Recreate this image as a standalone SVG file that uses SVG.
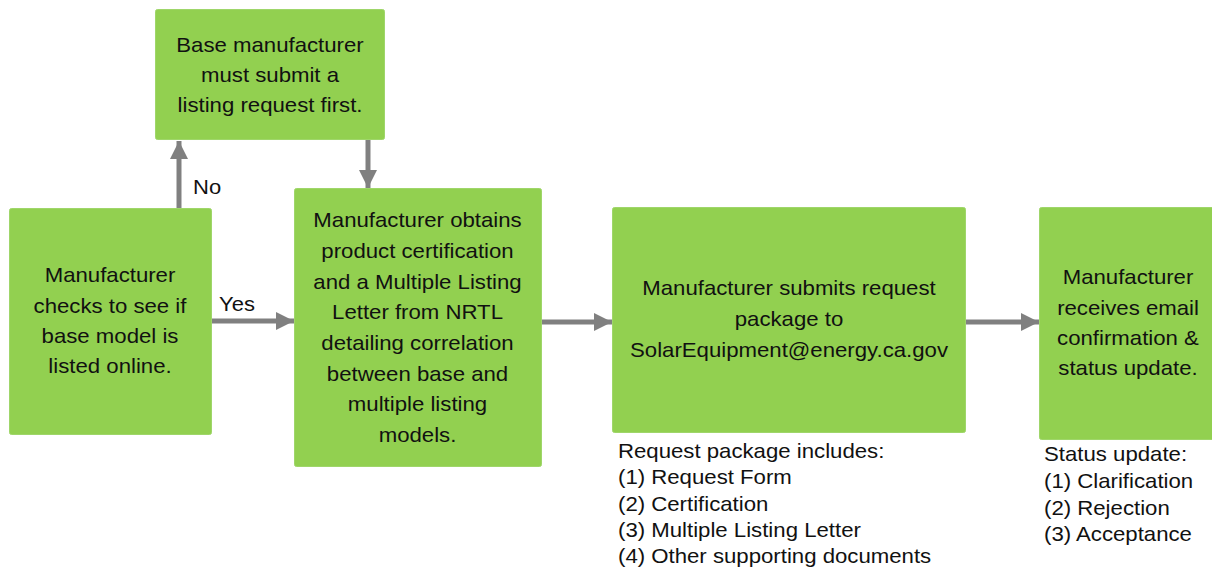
<svg xmlns="http://www.w3.org/2000/svg" width="1212" height="569" viewBox="0 0 1212 569">
<style>
.box{fill:#92D050;stroke:#9FD66A;stroke-width:1}
.t{font-family:"Liberation Sans",Arial,sans-serif;font-size:20px;fill:#111;text-anchor:middle}
.l{font-family:"Liberation Sans",Arial,sans-serif;font-size:20px;fill:#111}
.c{stroke:#808080;stroke-width:5;fill:none}
</style>
<defs>
<marker id="ah" viewBox="0 0 10 10" refX="10" refY="5" markerWidth="4.4" markerHeight="3.6" markerUnits="strokeWidth" orient="auto">
<path d="M0,0 L10,5 L0,10 Z" fill="#808080"/>
</marker>
</defs>
<rect width="1212" height="569" fill="#fff"/>
<g id="connectors">
<line class="c" x1="179" y1="208" x2="179" y2="141" marker-end="url(#ah)"/>
<line class="c" x1="368" y1="140" x2="368" y2="188" marker-end="url(#ah)"/>
<line class="c" x1="211" y1="321" x2="294" y2="321" marker-end="url(#ah)"/>
<line class="c" x1="541" y1="322" x2="612" y2="322" marker-end="url(#ah)"/>
<line class="c" x1="965" y1="322" x2="1039" y2="322" marker-end="url(#ah)"/>
<g transform="translate(193 0) scale(1.1 1)"><text class="l" x="0" y="194">No</text></g>
<g transform="translate(219 0) scale(1.1 1)"><text class="l" x="0" y="311">Yes</text></g>
</g>
<g id="n_base">
<rect class="box" x="155.5" y="9.5" width="229" height="130" rx="2"/>
<g transform="translate(270 0) scale(1.11 1)">
<text class="t" x="0" y="52">Base manufacturer</text>
<text class="t" x="0" y="82">must submit a</text>
<text class="t" x="0" y="112">listing request first.</text>
</g>
</g>
<g id="n_check">
<rect class="box" x="9.5" y="208.5" width="202" height="226" rx="2"/>
<g transform="translate(110 0) scale(1.11 1)">
<text class="t" x="0" y="282">Manufacturer</text>
<text class="t" x="0" y="313">checks to see if</text>
<text class="t" x="0" y="343">base model is</text>
<text class="t" x="0" y="373">listed online.</text>
</g>
</g>
<g id="n_obtain">
<rect class="box" x="294.5" y="188.5" width="247" height="278" rx="2"/>
<g transform="translate(417.5 0) scale(1.11 1)">
<text class="t" x="0" y="227">Manufacturer obtains</text>
<text class="t" x="0" y="258">product certification</text>
<text class="t" x="0" y="289">and a Multiple Listing</text>
<text class="t" x="0" y="319">Letter from NRTL</text>
<text class="t" x="0" y="350">detailing correlation</text>
<text class="t" x="0" y="381">between base and</text>
<text class="t" x="0" y="411">multiple listing</text>
<text class="t" x="0" y="442">models.</text>
</g>
</g>
<g id="n_submit">
<rect class="box" x="612.5" y="207.5" width="353" height="225" rx="2"/>
<g transform="translate(789 0) scale(1.11 1)">
<text class="t" x="0" y="295">Manufacturer submits request</text>
<text class="t" x="0" y="326">package to</text>
<text class="t" x="0" y="357">SolarEquipment@energy.ca.gov</text>
</g>
<g transform="translate(618 0) scale(1.11 1)">
<text class="l" x="0" y="458">Request package includes:</text>
<text class="l" x="0" y="484">(1) Request Form</text>
<text class="l" x="0" y="511">(2) Certification</text>
<text class="l" x="0" y="537">(3) Multiple Listing Letter</text>
<text class="l" x="0" y="563">(4) Other supporting documents</text>
</g>
</g>
<g id="n_receive">
<rect class="box" x="1039.5" y="207.5" width="180" height="232" rx="2"/>
<g transform="translate(1128 0) scale(1.11 1)">
<text class="t" x="0" y="284">Manufacturer</text>
<text class="t" x="0" y="315">receives email</text>
<text class="t" x="0" y="345">confirmation &amp;</text>
<text class="t" x="0" y="375">status update.</text>
</g>
<g transform="translate(1044 0) scale(1.11 1)">
<text class="l" x="0" y="461">Status update:</text>
<text class="l" x="0" y="488">(1) Clarification</text>
<text class="l" x="0" y="515">(2) Rejection</text>
<text class="l" x="0" y="541">(3) Acceptance</text>
</g>
</g>
</svg>
